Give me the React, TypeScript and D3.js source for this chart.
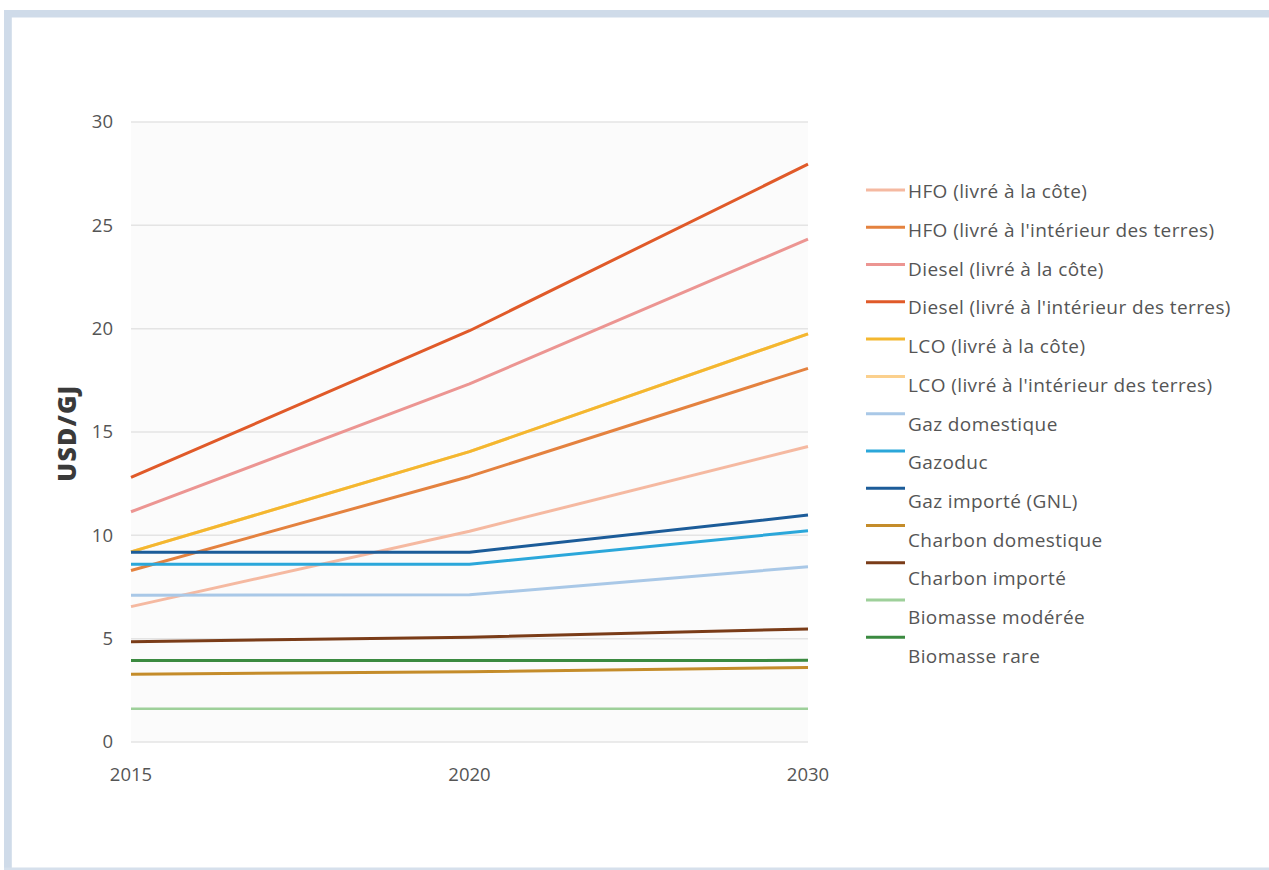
import React, { useEffect, useRef } from "react";
import * as d3 from "d3";

const years = ["2015", "2020", "2030"];
const yTicks = [0, 5, 10, 15, 20, 25, 30];

const seriesNames = [
  "HFO (livré à la côte)",
  "HFO (livré à l'intérieur des terres)",
  "Diesel (livré à la côte)",
  "Diesel (livré à l'intérieur des terres)",
  "LCO (livré à la côte)",
  "LCO (livré à l'intérieur des terres)",
  "Gaz domestique",
  "Gazoduc",
  "Gaz importé (GNL)",
  "Charbon domestique",
  "Charbon importé",
  "Biomasse modérée",
  "Biomasse rare",
];

const seriesColors = [
  "#f5b9a1",
  "#e4823f",
  "#ec9592",
  "#e05a29",
  "#f4b72f",
  "#fbd08d",
  "#a9c8e7",
  "#2ba7da",
  "#1c5c99",
  "#c48c2a",
  "#7a3c18",
  "#9ed09a",
  "#3b8a40",
];

const hfoCote = [6.55, 10.2, 14.3];
const hfoInterieur = [8.3, 12.85, 18.08];
const dieselCote = [11.14, 17.33, 24.33];
const dieselInterieur = [12.8, 19.9, 27.96];
const lcoCote = [9.2, 14.05, 19.75];
const lcoInterieur = [9.2, 14.05, 19.75];
const gazDomestique = [7.1, 7.12, 8.48];
const gazoduc = [8.6, 8.6, 10.22];
const gazImporte = [9.18, 9.18, 10.98];
const charbonDomestique = [3.28, 3.4, 3.61];
const charbonImporte = [4.85, 5.07, 5.47];
const biomasseModeree = [1.61, 1.61, 1.61];
const biomasseRare = [3.94, 3.94, 3.95];

const seriesValues = [
  hfoCote,
  hfoInterieur,
  dieselCote,
  dieselInterieur,
  lcoCote,
  lcoInterieur,
  gazDomestique,
  gazoduc,
  gazImporte,
  charbonDomestique,
  charbonImporte,
  biomasseModeree,
  biomasseRare,
];

// drawing order (bottom to top)
const drawOrder = [5, 0, 1, 2, 3, 4, 6, 7, 8, 11, 9, 12, 10];

const FONT = "'Open Sans', Lato, sans-serif";

export default function App() {
  const ref = useRef<SVGSVGElement>(null);

  useEffect(() => {
    const svg = d3.select(ref.current);
    svg.selectAll("*").remove();

    const W = 1269;
    const H = 870;
    // frame
    svg.append("rect").attr("x", 0).attr("y", 0).attr("width", W).attr("height", H).attr("fill", "#ffffff");
    svg.append("rect").attr("x", 4).attr("y", 10).attr("width", W - 4).attr("height", 7.5).attr("fill", "#cfdbe9");
    svg.append("rect").attr("x", 4).attr("y", 10).attr("width", 7.8).attr("height", H - 10).attr("fill", "#cfdbe9");
    svg.append("rect").attr("x", 4).attr("y", 867.5).attr("width", W - 4).attr("height", 2.5).attr("fill", "#d6e0ec");

    const x = d3.scalePoint<string>().domain(years).range([131, 808]);
    const y = d3.scaleLinear().domain([0, 30]).range([742, 122]);

    // plot background
    svg
      .append("rect")
      .attr("x", 131)
      .attr("y", y(30))
      .attr("width", 808 - 131)
      .attr("height", y(0) - y(30))
      .attr("fill", "#fbfbfb");

    // gridlines
    svg
      .append("g")
      .selectAll("line")
      .data(yTicks)
      .join("line")
      .attr("x1", 131)
      .attr("x2", 808)
      .attr("y1", (d) => y(d))
      .attr("y2", (d) => y(d))
      .attr("stroke", "#e4e4e4")
      .attr("stroke-width", 1.5);

    // y tick labels
    svg
      .append("g")
      .selectAll("text")
      .data(yTicks)
      .join("text")
      .attr("x", 113)
      .attr("y", (d) => y(d))
      .attr("dy", "0.35em")
      .attr("text-anchor", "end")
      .attr("font-family", FONT)
      .attr("font-size", 18.5)
      .attr("fill", "#555555")
      .text((d) => String(d));

    // x labels
    svg
      .append("g")
      .selectAll("text")
      .data(years)
      .join("text")
      .attr("x", (d) => x(d)!)
      .attr("y", 775)
      .attr("dy", "0.35em")
      .attr("text-anchor", "middle")
      .attr("font-family", FONT)
      .attr("font-size", 18.5)
      .attr("fill", "#555555")
      .text((d) => d);

    // y title
    svg
      .append("text")
      .attr("transform", "translate(67,433) rotate(-90)")
      .attr("text-anchor", "middle")
      .attr("dy", "0.35em")
      .attr("font-family", FONT)
      .attr("font-weight", 800)
      .attr("font-size", 25)
      .attr("letter-spacing", 1.2)
      .attr("fill", "#3a3a3a")
      .text("USD/GJ");

    // lines
    const line = d3
      .line<number>()
      .x((_, i) => x(years[i])!)
      .y((d) => y(d));

    const gLines = svg.append("g");
    drawOrder.forEach((i) => {
      gLines
        .append("path")
        .attr("d", line(seriesValues[i]))
        .attr("fill", "none")
        .attr("stroke", seriesColors[i])
        .attr("stroke-width", i === 11 ? 2.5 : 3)
        .attr("stroke-linejoin", "round");
    });

    // legend
    const gLeg = svg.append("g");
    seriesNames.forEach((name, i) => {
      const sy = 190 + i * 37.28;
      const ty = 191.7 + i * 38.7;
      gLeg
        .append("line")
        .attr("x1", 866)
        .attr("x2", 905)
        .attr("y1", sy)
        .attr("y2", sy)
        .attr("stroke", seriesColors[i])
        .attr("stroke-width", 3);
      gLeg
        .append("text")
        .attr("x", 908)
        .attr("y", ty)
        .attr("dy", "0.35em")
        .attr("font-family", FONT)
        .attr("font-size", 19)
        .attr("letter-spacing", 0.4)
        .attr("fill", "#555555")
        .text(name);
    });
  }, []);

  return (
    <svg
      ref={ref}
      width={1269}
      height={870}
      style={{ position: "absolute", left: 0, top: 0, display: "block" }}
    />
  );
}
